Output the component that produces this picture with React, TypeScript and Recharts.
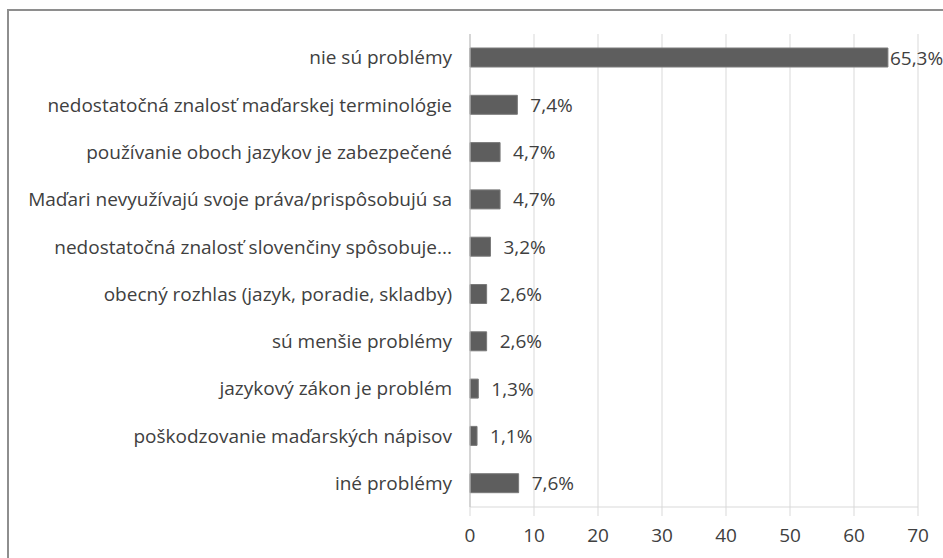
import { BarChart, Bar, XAxis, YAxis, CartesianGrid, LabelList } from 'recharts'

const categories = [
  'nie sú problémy',
  'nedostatočná znalosť maďarskej terminológie',
  'používanie oboch jazykov je zabezpečené',
  'Maďari nevyužívajú svoje práva/prispôsobujú sa',
  'nedostatočná znalosť slovenčiny spôsobuje...',
  'obecný rozhlas (jazyk, poradie, skladby)',
  'sú menšie problémy',
  'jazykový zákon je problém',
  'poškodzovanie maďarských nápisov',
  'iné problémy',
]
const shares = [65.3, 7.4, 4.7, 4.7, 3.2, 2.6, 2.6, 1.3, 1.1, 7.6]
const xTicks = [0, 10, 20, 30, 40, 50, 60, 70]
// category boundaries for the small ticks on the left axis
const edgeTicks = [0, 1, 2, 3, 4, 5, 6, 7, 8, 9, 10]

const data = categories.map((name, i) => ({ name, value: shares[i] }))

const FONT = '"Open Sans", sans-serif'
const TEXT = '#404040'
const SIZE = 19

const fmt = (v: number) => v.toFixed(1).replace('.', ',') + '%'

function ValueLabel(props: any) {
  const { x, y, width, height, value } = props
  const end = x + width
  // long bars get their label pushed in close to the bar end
  const gap = end > 850 ? 2 : 13
  return (
    <text
      x={end + gap}
      y={y + height / 2}
      dominantBaseline="central"
      fontFamily={FONT}
      fontSize={SIZE}
      fill={TEXT}
    >
      {fmt(Number(value))}
    </text>
  )
}

export default function App() {
  return (
    <div style={{ position: 'absolute', left: 0, top: 0, width: 943, height: 558, background: '#fff', overflow: 'hidden' }}>
      <BarChart
        width={943}
        height={558}
        data={data}
        layout="vertical"
        margin={{ top: 34, right: 25, bottom: 11, left: 0 }}
        barSize={19}
        style={{ position: 'absolute', left: 0, top: 0 }}
      >
        <CartesianGrid horizontal={false} stroke="#d9d9d9" />
        <XAxis
          type="number"
          domain={[0, 70]}
          ticks={xTicks}
          interval={0}
          height={40}
          axisLine={{ stroke: '#d9d9d9' }}
          tickLine={{ stroke: '#d9d9d9' }}
          tickSize={9}
          tickMargin={13}
          tick={{ fontFamily: FONT, fontSize: SIZE, fill: TEXT }}
        />
        {/* thin numeric axis next to the plot: axis line and band-edge ticks */}
        <YAxis
          yAxisId={0}
          type="number"
          domain={[0, 10]}
          allowDataOverflow
          ticks={edgeTicks}
          interval={0}
          width={1}
          axisLine={{ stroke: '#bfbfbf' }}
          tick={false}
          tickSize={6}
          tickLine={{ stroke: '#a6a6a6' }}
        />
        <YAxis
          yAxisId="cat"
          type="category"
          dataKey="name"
          width={469}
          interval={0}
          axisLine={false}
          tickLine={false}
          tickSize={0}
          tickMargin={17}
          tick={{ fontFamily: FONT, fontSize: SIZE, fill: TEXT }}
        />
        <Bar yAxisId="cat" dataKey="value" fill="#5e5e5e" stroke="#7a7a7a" strokeWidth={1} isAnimationActive={false}>
          <LabelList dataKey="value" content={ValueLabel} />
        </Bar>
      </BarChart>
      <div
        style={{
          position: 'absolute',
          left: 7,
          top: 9,
          width: 960,
          height: 600,
          borderTop: '2px solid #8e8e8e',
          borderLeft: '2px solid #8e8e8e',
          pointerEvents: 'none',
        }}
      />
    </div>
  )
}
